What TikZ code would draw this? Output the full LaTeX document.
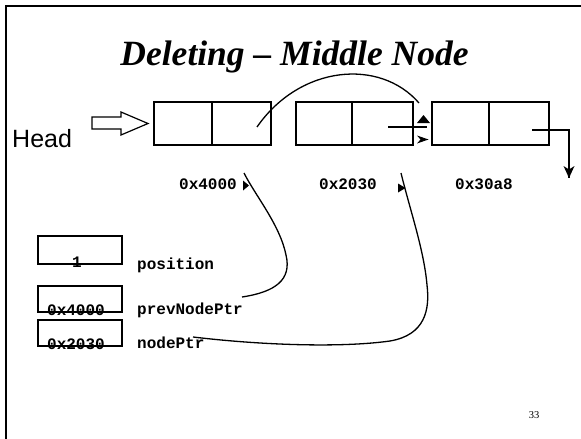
\documentclass[tikz,border=0pt]{standalone}
\usepackage{fontspec}
\setmainfont{Liberation Serif}
\newfontfamily\arialf{Liberation Sans}
\newfontfamily\courf{Liberation Mono}
\usetikzlibrary{arrows.meta}
\begin{document}
\begin{tikzpicture}[x=1pt,y=-1pt,
  cell/.style={draw, line width=1.4pt, inner sep=0pt, minimum height=43pt},
  var/.style={draw, line width=1.4pt, inner sep=0pt, minimum width=84pt},
  mono/.style={font=\courf\bfseries\fontsize{16}{16}\selectfont, inner sep=0pt},
  ptr/.style={line width=1.3pt},
  tri/.style={fill=black, draw=none}]
\useasboundingbox (0,0) rectangle (581,439);
% frame
\draw[line width=1.6pt] (6,439) -- (6,6) -- (581,6);
% title
\node[anchor=base, inner sep=0pt, font=\bfseries\itshape\fontsize{35.5}{36}\selectfont] (title) at (294.5,65) {Deleting -- Middle Node};
% head
\node[anchor=base west, inner sep=0pt, font=\arialf\fontsize{25}{25}\selectfont] (head) at (12,147) {Head};
\draw[line width=1.2pt] (92,117) -- (121,117) -- (121,112) -- (148,123.5) -- (121,135) -- (121,129) -- (92,129) -- cycle;
% list cells
\node[cell, minimum width=58pt] (c1a) at (183,123.5) {};
\node[cell, minimum width=59pt] (c1b) at (241.5,123.5) {};
\node[cell, minimum width=56pt] (c2a) at (324,123.5) {};
\node[cell, minimum width=61pt] (c2b) at (382.5,123.5) {};
\node[cell, minimum width=57pt] (c3a) at (460.5,123.5) {};
\node[cell, minimum width=60pt] (c3b) at (519,123.5) {};
% addresses
\node[mono, anchor=base] (a1) at (208,189) {0x4000};
\node[mono, anchor=base] (a2) at (348,189) {0x2030};
\node[mono, anchor=base] (a3) at (484,189) {0x30a8};
% arc over middle node
\coordinate (p1) at (257,127);
\coordinate (p1e) at (419,103);
\draw[ptr] (p1) .. controls (300,65) and (380,58) .. (p1e);
\fill[tri] (417,123) -- (423.5,115) -- (430,123) -- cycle;
% pointer of middle node
\coordinate (p2) at (388,127);
\coordinate (p2e) at (427,127);
\draw[ptr] (p2) -- (p2e);
\fill[tri] (417,135.5) -- (428.5,139.5) -- (417,143.5) -- (420.5,139.5) -- cycle;
% pointer of last node
\coordinate (p3) at (532,130);
\coordinate (p3c) at (569,130);
\coordinate (p3e) at (569,178);
\draw[ptr] (p3) -- (p3c) -- (p3e);
\fill[tri] (563.5,166) -- (569,178) -- (574.5,166) -- (569,169.5) -- cycle;
% variables
\node[var, minimum height=28pt] (vpos) at (80,250) {};
\node[var, minimum height=26pt] (vprev) at (80,299) {};
\node[var, minimum height=26pt] (vnode) at (80,333) {};
\node[mono, anchor=base] (tpos) at (77,267) {1};
\node[mono, anchor=base] (tprev) at (76,315) {0x4000};
\node[mono, anchor=base] (tnode) at (76,349) {0x2030};
\node[mono, anchor=base west] (lpos) at (137,269) {position};
\node[mono, anchor=base west] (lprev) at (137,314) {prevNodePtr};
\node[mono, anchor=base west] (lnode) at (137,348) {nodePtr};
% curves
\coordinate (qa0) at (242,297);
\coordinate (qa1) at (244,173);
\draw[ptr] (qa0) .. controls (275,292) and (292,280) .. (286,255)
  .. controls (280,225) and (255,195) .. (qa1);
\fill[tri] (243,180.5) -- (249,185.5) -- (243,190.5) -- cycle;
\coordinate (qb0) at (193,337);
\coordinate (qb1) at (401,173);
\draw[ptr] (qb0) .. controls (260,345) and (340,348) .. (390,341)
  .. controls (425,335) and (430,310) .. (427,285)
  .. controls (424,250) and (410,210) .. (qb1);
\fill[tri] (398,183.5) -- (405.5,188) -- (398,192.5) -- cycle;
% page number
\node[anchor=base, inner sep=0pt, font=\fontsize{10.5}{11}\selectfont] (pg) at (534,418) {33};
\end{tikzpicture}
\end{document}
